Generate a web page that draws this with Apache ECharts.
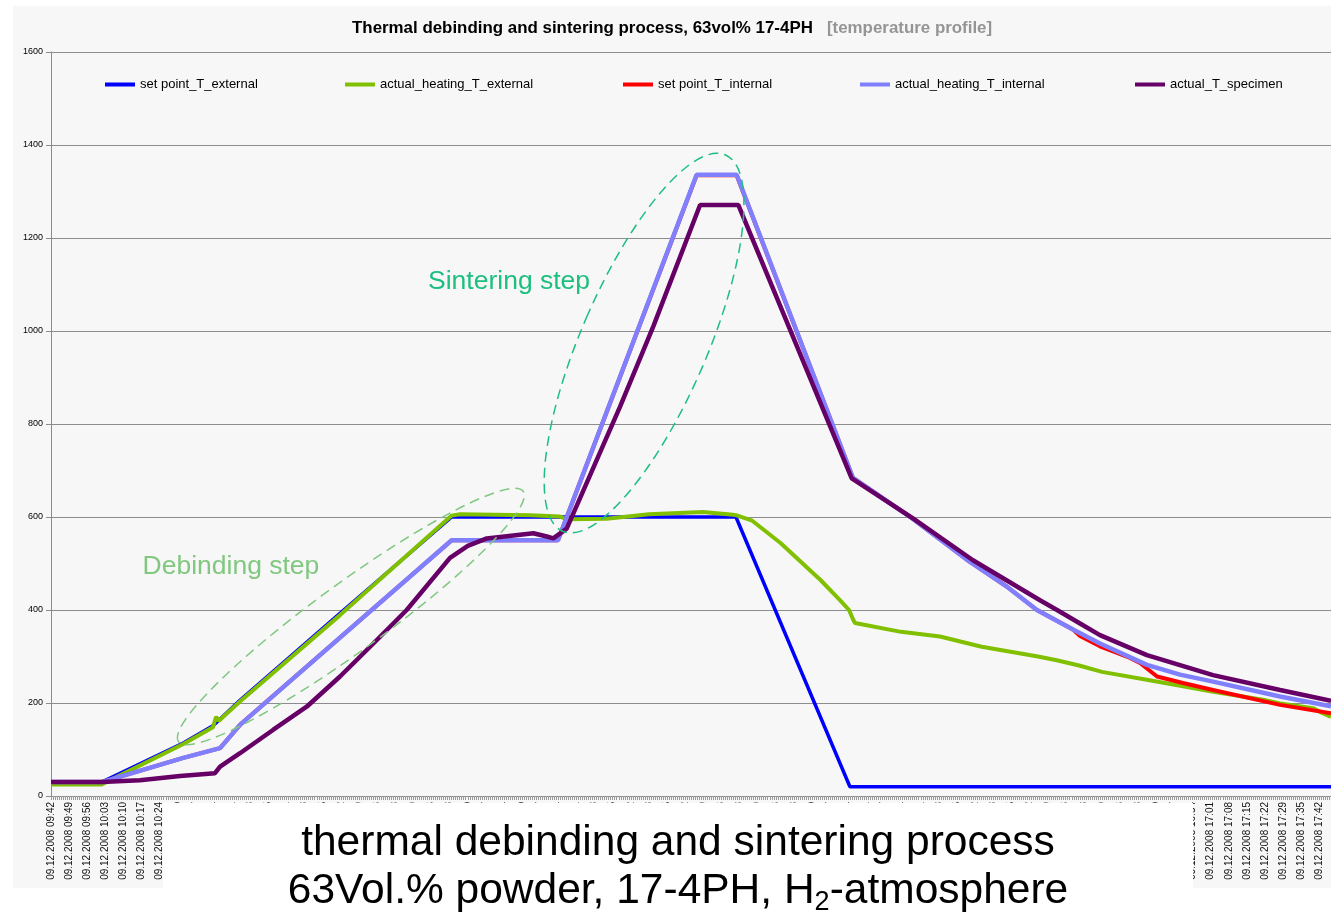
<!DOCTYPE html>
<html><head><meta charset="utf-8">
<script src="https://cdn.jsdelivr.net/npm/echarts@6/dist/echarts.min.js"></script>
<style>html,body{margin:0;padding:0;background:#fff}#chart{width:1331px;height:915px}</style>
</head><body><div id="chart"></div>
<script>
// ---------- data ----------
const dateLabel = '09.12.2008';
const timeLabels = [
 '09:42','09:49','09:56','10:03','10:10','10:17','10:24','10:30','10:37','10:44',
 '10:51','10:58','11:05','11:11','11:18','11:25','11:32','11:39','11:46','11:53',
 '11:59','12:06','12:13','12:20','12:27','12:34','12:40','12:47','12:54','13:01',
 '13:08','13:15','13:22','13:28','13:35','13:42','13:49','13:56','14:03','14:09',
 '14:16','14:23','14:30','14:37','14:44','14:51','14:57','15:04','15:11','15:18',
 '15:25','15:32','15:38','15:45','15:52','15:59','16:06','16:13','16:19','16:26',
 '16:33','16:40','16:47','16:54','17:01','17:08','17:15','17:22','17:29','17:35',
 '17:42'
];
const yTicks = [0, 200, 400, 600, 800, 1000, 1200, 1400, 1600];
const seriesNames = ['set point_T_external','actual_heating_T_external','set point_T_internal','actual_heating_T_internal','actual_T_specimen'];

// [time position (in label steps), temperature °C]
const setPointExternal = [[0,30],[2.8,30],[7.3,114],[8.94,151],[10.43,206],[15.95,393],[22.11,600],[37.8,600],[44.09,20],[70.64,20]];
const actualHeatingExternal = [[0,25],[2.8,25],[7.3,112],[8.94,148],[9.05,150],[9.11,170],[9.27,162],[9.49,170],[10.43,203],[15.95,389],[22.11,603],[22.57,606],[26.43,604],[28.09,601],[28.5,595],[30.67,596],[33.0,606],[35.98,611],[37.64,605],[37.8,604],[38.7,592],[40.26,544],[42.48,464],[43.54,421],[44.04,400],[44.14,396],[44.26,380],[44.37,372],[46.91,353],[49.06,343],[51.36,321],[54.47,300],[55.5,292],[56.79,280],[58.0,267],[60.47,250],[62.47,236],[64.14,224],[66.89,207],[67.83,199],[69.65,189],[70.03,181],[70.64,170]];
const setPointInternal = [[0,30],[2.8,30],[7.3,82],[9.33,103],[10.43,153],[22.11,550],[27.98,550],[35.63,1335],[37.84,1335],[44.26,684],[47.57,596],[50.55,508],[52.76,450],[54.41,400],[56.4,358],[56.79,344],[57.89,322],[59.55,297],[60.1,286],[61.04,257],[62.47,243],[64.13,228],[67.83,196],[70.64,178]];
const actualHeatingInternal = [[0,30],[2.8,30],[7.3,82],[9.33,103],[10.43,153],[22.11,550],[27.98,550],[35.63,1336],[37.84,1336],[44.26,684],[47.57,596],[50.55,508],[52.76,450],[54.41,400],[56.4,358],[57.89,328],[60.48,282],[62.31,261],[64.13,246],[67.83,214],[70.64,193]];
const actualTSpecimen = [[0,30],[2.8,30],[4.91,34],[7.12,43],[9.05,49],[9.33,63],[10.43,92],[12.25,142],[14.11,192],[15.95,257],[17.79,328],[19.63,400],[22.02,512],[23.0,538],[24.05,554],[26.62,565],[27.36,558],[27.72,554],[28.46,575],[31.4,837],[33.24,1010],[35.82,1271],[37.93,1271],[44.19,683],[47.57,597],[50.88,507],[54.58,421],[55.52,400],[56.79,371],[57.89,346],[60.48,303],[64.13,260],[67.83,228],[70.64,205]];

// ---------- chart ----------
const FONT = '"Liberation Sans", Arial, Helvetica, sans-serif';
const colors = ['#0000ff', '#80c000', '#ff0000', '#8080ff', '#660066'];
const widths = [3.5, 4, 4, 4.5, 4.5];
const seriesData = [setPointExternal, actualHeatingExternal, setPointInternal, actualHeatingInternal, actualTSpecimen];
const legendLefts = [105, 345, 623, 860, 1135];

const chart = echarts.init(document.getElementById('chart'), null, {renderer: 'canvas'});

const option = {
  animation: false,
  backgroundColor: '#f7f7f7',
  textStyle: {fontFamily: FONT},
  title: {
    left: 347, top: 15, padding: 5,
    text: '{a|Thermal debinding and sintering process, 63vol% 17-4PH}{b|   [temperature profile]}',
    textStyle: {
      rich: {
        a: {fontFamily: FONT, fontSize: 16.9, fontWeight: 'bold', color: '#000'},
        b: {fontFamily: FONT, fontSize: 16.9, fontWeight: 'bold', color: '#959595'}
      }
    }
  },
  legend: seriesNames.map((n, k) => ({
    data: [n], left: legendLefts[k] - 5, top: 73, padding: 5,
    icon: 'rect', itemWidth: 30, itemHeight: 4, itemGap: 0,
    textStyle: {fontFamily: FONT, fontSize: 13, color: '#000'}
  })),
  grid: {left: 51, right: 0, top: 52, bottom: 119, containLabel: false, outerBoundsMode: 'none'},
  xAxis: {
    type: 'value', min: 0, max: 70.64, interval: 1,
    axisLine: {show: true, onZero: false, lineStyle: {color: '#8c8c8c', width: 1}},
    axisTick: {show: true, length: 4, lineStyle: {color: '#9a9a9a'}},
    minorTick: {show: true, splitNumber: 9, length: 4, lineStyle: {color: '#9a9a9a'}},
    splitLine: {show: false},
    minorSplitLine: {show: false},
    axisLabel: {
      rotate: 90, margin: 6, fontSize: 10, color: '#111', fontFamily: FONT,
      showMinLabel: true, showMaxLabel: true,
      formatter: v => {
        const k = Math.round(v);
        if (Math.abs(v - k) > 0.01 || !timeLabels[k]) return '';
        return dateLabel + ' ' + timeLabels[k];
      }
    }
  },
  yAxis: {
    type: 'value', min: yTicks[0], max: yTicks[yTicks.length - 1], interval: yTicks[1] - yTicks[0],
    axisLine: {show: true, lineStyle: {color: '#8c8c8c', width: 1}},
    axisTick: {show: true, length: 5, lineStyle: {color: '#8c8c8c'}},
    axisLabel: {fontSize: 9, color: '#000', margin: 8, fontFamily: FONT, formatter: v => String(v)},
    splitLine: {show: true, lineStyle: {color: '#8c8c8c', width: 1}}
  },
  series: seriesNames.map((n, k) => ({
    name: n, type: 'line', data: seriesData[k],
    showSymbol: false, symbol: 'none', smooth: false,
    color: colors[k],
    lineStyle: {color: colors[k], width: widths[k]},
    itemStyle: {color: colors[k]},
    emphasis: {disabled: true},
    z: 2
  }))
};
chart.setOption(option);

function px(pt) { return chart.convertToPixel({gridIndex: 0}, pt); }
const sLab = px([25.28, 1106]);
const dLab = px([9.93, 493]);
const sEll = px([32.73, 974]);
const dEll = px([16.55, 386]);

chart.setOption({
  graphic: [
    {type: 'rect', z: 50, shape: {x: 0, y: 0, width: 1331, height: 6}, style: {fill: '#fff'}},
    {type: 'rect', z: 50, shape: {x: 0, y: 0, width: 13, height: 915}, style: {fill: '#fff'}},
    {type: 'rect', z: 50, shape: {x: 0, y: 888, width: 1331, height: 27}, style: {fill: '#fff'}},
    {type: 'rect', z: 60, shape: {x: 163, y: 803, width: 1030, height: 112}, style: {fill: '#fff'}},
    {type: 'text', z: 61, x: 678, y: 843, style: {
      text: 'thermal debinding and sintering process', fontFamily: FONT, fontSize: 42.5, fill: '#000',
      align: 'center', textAlign: 'center', verticalAlign: 'middle', textVerticalAlign: 'middle', lineHeight: 50}},
    {type: 'text', z: 61, x: 678, y: 891, style: {
      text: '63Vol.% powder, 17-4PH, H{sub|2}-atmosphere', fontFamily: FONT, fontSize: 42.5, fill: '#000',
      align: 'center', textAlign: 'center', verticalAlign: 'middle', textVerticalAlign: 'middle', lineHeight: 50,
      rich: {sub: {fontFamily: FONT, fontSize: 27, fill: '#000', verticalAlign: 'bottom', lineHeight: 26}}}},
    {type: 'text', z: 20, x: sLab[0], y: sLab[1], style: {
      text: 'Sintering step', fontFamily: FONT, fontSize: 26.5, fill: '#1dbf80',
      align: 'center', textAlign: 'center', verticalAlign: 'middle', textVerticalAlign: 'middle'}},
    {type: 'text', z: 20, x: dLab[0], y: dLab[1], style: {
      text: 'Debinding step', fontFamily: FONT, fontSize: 26.5, fill: '#80c880',
      align: 'center', textAlign: 'center', verticalAlign: 'middle', textVerticalAlign: 'middle'}},
    {type: 'ellipse', z: 20, x: sEll[0], y: sEll[1], rotation: -23.4 * Math.PI / 180,
      shape: {cx: 0, cy: 0, rx: 63, ry: 205},
      style: {fill: 'none', stroke: '#1dbf80', lineWidth: 1.5, lineDash: [10, 6]}},
    {type: 'ellipse', z: 20, x: dEll[0], y: dEll[1], rotation: 36 * Math.PI / 180,
      shape: {cx: 0, cy: 0, rx: 213, ry: 34},
      style: {fill: 'none', stroke: '#80c880', lineWidth: 1.5, lineDash: [10, 6]}}
  ]
});
</script>
</body></html>
